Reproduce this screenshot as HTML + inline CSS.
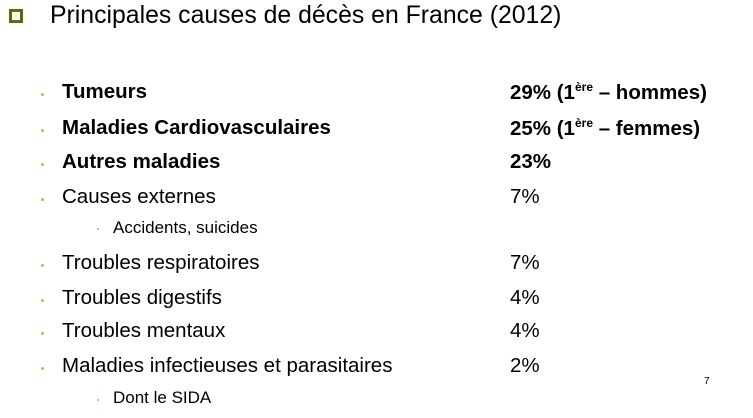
<!DOCTYPE html>
<html><head><meta charset="utf-8"><style>
body{margin:0;width:753px;height:418px;background:#fff;position:relative;overflow:hidden;font-family:"Liberation Sans",Arial,sans-serif;color:#000}
.sq{position:absolute;left:9px;top:9px;width:8px;height:8px;border:3px solid #66660a}
.t{position:absolute;left:50px;top:2px;font-size:24.8px;white-space:nowrap}
.r{position:absolute;font-size:20.5px;white-space:nowrap}
.b{font-weight:bold}
.dot{position:absolute;width:3px;height:3px;background:#a8c44a;border-radius:50%}
.s{font-size:17px}
sup{font-size:12px;vertical-align:8px}
.p{position:absolute;left:510px;font-size:20.5px;white-space:nowrap}
</style></head><body>
<div class="sq"></div>
<div class="t">Principales causes de décès en France (2012)</div>

<div class="dot" style="left:41px;top:93px"></div><div class="r b" style="left:62px;top:80px">Tumeurs</div><div class="p b" style="top:80px">29% (1<sup>ère</sup> – hommes)</div>
<div class="dot" style="left:41px;top:129px"></div><div class="r b" style="left:62px;top:116px">Maladies Cardiovasculaires</div><div class="p b" style="top:116px">25% (1<sup>ère</sup> – femmes)</div>
<div class="dot" style="left:41px;top:163px"></div><div class="r b" style="left:62px;top:150px">Autres maladies</div><div class="p b" style="top:150px">23%</div>
<div class="dot" style="left:41px;top:198px"></div><div class="r" style="left:62px;top:185px">Causes externes</div><div class="p" style="top:185px">7%</div>
<div class="dot" style="left:97px;top:228px;width:2px;height:2px"></div><div class="r s" style="left:113px;top:218px">Accidents, suicides</div>
<div class="dot" style="left:41px;top:264px"></div><div class="r" style="left:62px;top:251px">Troubles respiratoires</div><div class="p" style="top:251px">7%</div>
<div class="dot" style="left:41px;top:299px"></div><div class="r" style="left:62px;top:286px">Troubles digestifs</div><div class="p" style="top:286px">4%</div>
<div class="dot" style="left:41px;top:332px"></div><div class="r" style="left:62px;top:319px">Troubles mentaux</div><div class="p" style="top:319px">4%</div>
<div class="dot" style="left:41px;top:367px"></div><div class="r" style="left:62px;top:354px">Maladies infectieuses et parasitaires</div><div class="p" style="top:354px">2%</div>
<div style="position:absolute;left:704px;top:376px;font-size:10px">7</div>
<div class="dot" style="left:97px;top:399px;width:2px;height:2px"></div><div class="r s" style="left:113px;top:388px">Dont le SIDA</div>
</body></html>
